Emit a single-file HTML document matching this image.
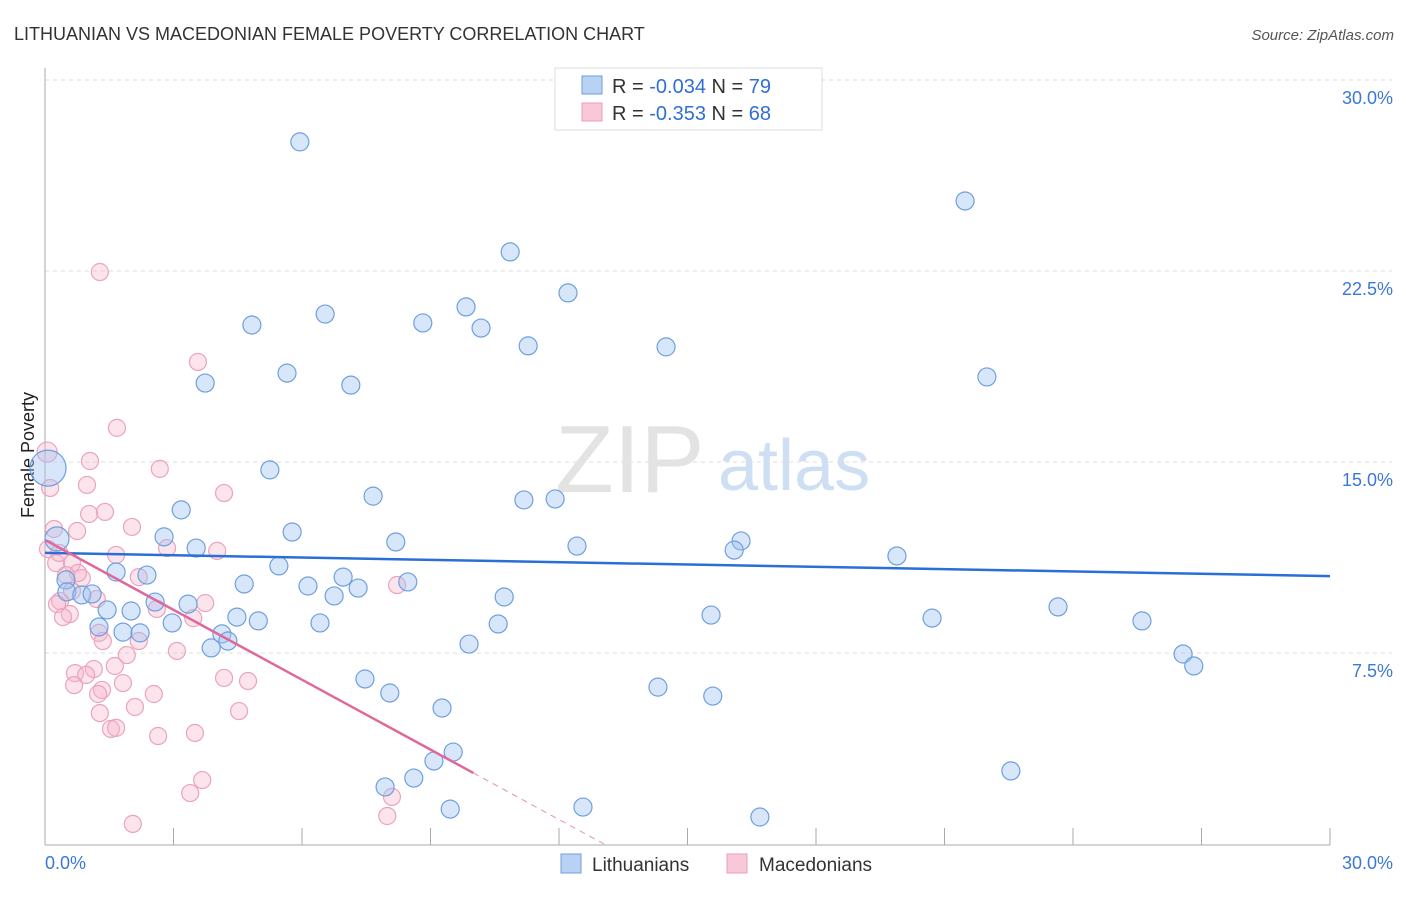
<!DOCTYPE html>
<html><head><meta charset="utf-8"><style>
body{margin:0;background:#fff;font-family:"Liberation Sans",sans-serif}
svg text{font-family:"Liberation Sans",sans-serif}
</style></head><body>
<svg width="1406" height="892" viewBox="0 0 1406 892">
<text x="14" y="40" font-size="18" fill="#333">LITHUANIAN VS MACEDONIAN FEMALE POVERTY CORRELATION CHART</text>
<text x="1394" y="40" font-size="15" font-style="italic" fill="#555" text-anchor="end">Source: ZipAtlas.com</text>
<g id="grid"></g>
<g><text x="555" y="492" font-size="96" font-family="Liberation Serif,serif" fill="#e3e3e3">ZIP</text><text x="718" y="490" font-size="72" fill="#cfdff3">atlas</text></g>
<text transform="translate(34,455) rotate(-90)" font-size="18" fill="#222" text-anchor="middle">Female Poverty</text>
<g id="pts"></g>
<g id="lines"></g>
<g>
<rect x="555" y="68" width="267" height="62" fill="#fff" stroke="#ddd"/>
<rect x="582" y="76" width="20" height="18" fill="#b9d2f4" stroke="#6d9de0"/>
<rect x="582" y="103" width="20" height="18" fill="#f9c8d6" stroke="#e9a0b8"/>
<text x="612" y="93" font-size="20" fill="#333">R = <tspan fill="#2f6fd6">-0.034</tspan>   N = <tspan fill="#2f6fd6">79</tspan></text>
<text x="612" y="120" font-size="20" fill="#333">R = <tspan fill="#2f6fd6"> -0.353</tspan>   N = <tspan fill="#2f6fd6">68</tspan></text>
</g>
<g>
<rect x="561" y="854" width="20" height="19" fill="#b9d2f4" stroke="#6d9de0"/>
<text x="592" y="871" font-size="19" fill="#333">Lithuanians</text>
<rect x="727" y="854" width="20" height="19" fill="#f9c8d6" stroke="#e9a0b8"/>
<text x="759" y="871" font-size="19" fill="#333">Macedonians</text>
</g>
</svg>
<script>
const yTicks=[7.5,15,22.5,30];
const xTickLabels=["0.0%","30.0%"];
const blueX=[5.95,21.48,10.86,12.21,4.83,6.54,8.82,9.83,10.18,11.28,14.50,3.74,5.65,7.14,21.99,5.25,7.66,11.18,11.91,3.18,5.77,2.78,3.53,8.19,12.42,16.25,16.09,19.89,5.46,1.66,2.38,0.49,4.65,6.14,6.96,8.47,7.31,0.51,0.86,1.10,6.75,10.72,2.01,1.45,2.57,3.34,4.48,4.98,6.42,2.97,1.26,1.82,2.22,4.13,4.27,3.88,10.58,9.90,15.55,20.71,23.65,25.61,26.57,26.82,7.47,8.05,14.31,15.59,9.27,9.53,9.08,8.61,7.94,9.46,12.56,16.69,22.55,0.07,0.28];
const blueY=[27.57,25.25,23.25,21.64,20.38,20.81,20.46,21.09,20.26,19.56,19.52,18.10,18.49,18.02,18.34,14.69,13.66,13.51,13.55,13.12,12.25,12.06,11.62,11.86,11.70,11.90,11.54,11.31,10.92,10.68,10.56,10.37,10.21,10.13,10.48,10.29,10.05,9.90,9.78,9.82,9.74,9.70,9.15,9.19,9.50,9.42,8.91,8.76,8.68,8.68,8.52,8.32,8.29,8.25,7.97,7.70,8.64,7.85,8.99,8.87,9.31,8.76,7.46,6.99,6.48,5.93,6.16,5.81,5.34,3.61,3.26,2.59,2.24,1.37,1.45,1.06,2.87,14.76,11.98];
const blueR=[9,9,9,9,9,9,9,9,9,9,9,9,9,9,9,9,9,9,9,9,9,9,9,9,9,9,9,9,9,9,9,9,9,9,9,9,9,9,9,9,9,9,9,9,9,9,9,9,9,9,9,9,9,9,9,9,9,9,9,9,9,9,9,9,9,9,9,9,9,9,9,9,9,9,9,9,9,18,12];
const pinkX=[1.28,3.57,1.68,0.05,1.05,2.68,0.12,0.98,4.18,1.03,1.40,2.03,0.75,0.21,1.66,2.85,4.02,0.26,0.63,0.07,0.33,0.86,0.77,2.19,0.49,0.63,1.21,0.35,0.28,0.58,0.42,2.61,3.74,3.46,8.22,1.26,1.35,2.19,3.08,0.70,1.14,1.63,1.91,0.96,0.68,1.33,1.24,1.82,2.54,4.18,4.74,1.28,2.10,4.53,1.54,1.66,2.64,3.50,3.67,3.39,8.10,7.99,2.05];
const pinkY=[22.46,18.93,16.34,15.39,15.04,14.73,13.98,14.10,13.78,12.96,13.04,12.45,12.29,12.37,11.35,11.62,11.51,11.03,11.03,11.58,11.43,10.44,10.64,10.48,10.56,9.93,9.62,9.54,9.42,9.03,8.91,9.23,9.46,8.87,10.17,8.29,7.97,7.97,7.58,6.71,6.87,6.99,7.42,6.64,6.24,6.05,5.89,6.32,5.89,6.52,6.40,5.14,5.38,5.22,4.52,4.56,4.24,4.36,2.51,2.00,1.85,1.10,0.79];
const blueLine=[11.43,10.52];
const pinkLine=[11.94,0]; const pinkSolidEnd=10; const pinkZeroX=13.05;
const X=v=>45+v/30*1285, Y=v=>844-v/30*764;
const NS="http://www.w3.org/2000/svg";
function mk(t,a,p){const e=document.createElementNS(NS,t);for(const k in a)e.setAttribute(k,a[k]);p.appendChild(e);return e;}
const grid=document.getElementById('grid');
yTicks.forEach(t=>{
 const l=mk('line',{x1:45,x2:1392,y1:Y(t),y2:Y(t),stroke:'#ddd','stroke-dasharray':'4,4'},grid);
 
 
 const tx=mk('text',{x:1393,y:Y(t)+24,'font-size':18,fill:'#3b78d8','text-anchor':'end'},grid);
 tx.textContent=t.toFixed(1)+'%';
 
 
});
const ax=mk('line',{x1:45,x2:1330,y1:845,y2:845,stroke:'#aaa'},grid);


const ay=mk('line',{x1:45,x2:45,y1:68,y2:845,stroke:'#aaa'},grid);


for(let i=0;i<=10;i++){const t=mk('line',{x1:X(i*3),x2:X(i*3),y1:845,y2:828,stroke:'#aaa'},grid);
 
 }
const xl0=mk('text',{x:45,y:869,'font-size':18,fill:'#3b78d8'},grid);xl0.textContent=xTickLabels[0];


const xl1=mk('text',{x:1393,y:869,'font-size':18,fill:'#3b78d8','text-anchor':'end'},grid);xl1.textContent=xTickLabels[1];


const pts=document.getElementById('pts');
pinkX.forEach((x,i)=>{const c=mk('circle',{cx:X(x),cy:Y(pinkY[i]),r:i==3?10:8.5,fill:'rgba(246,178,200,0.35)',stroke:'#eba3bb','stroke-width':1.2},pts);
 
 });
blueX.forEach((x,i)=>{const c=mk('circle',{cx:X(x),cy:Y(blueY[i]),r:blueR[i],fill:'rgba(160,196,240,0.42)',stroke:'#6f9fe0','stroke-width':1.2},pts);
 
 });
const ln=document.getElementById('lines');
const py=x=>pinkLine[0]+(pinkLine[1]-pinkLine[0])*x/pinkZeroX;
const bl=mk('line',{x1:X(0),y1:Y(blueLine[0]),x2:X(30),y2:Y(blueLine[1]),stroke:'#2a6fd6','stroke-width':2.5},ln);


const pl=mk('line',{x1:X(0),y1:Y(py(0)),x2:X(pinkSolidEnd),y2:Y(py(pinkSolidEnd)),stroke:'#e0679a','stroke-width':2.5},ln);


const pd=mk('line',{x1:X(pinkSolidEnd),y1:Y(py(pinkSolidEnd)),x2:X(pinkZeroX),y2:Y(0),stroke:'#e8a0bb','stroke-width':1.2,'stroke-dasharray':'6,5'},ln);


</script>
</body></html>
